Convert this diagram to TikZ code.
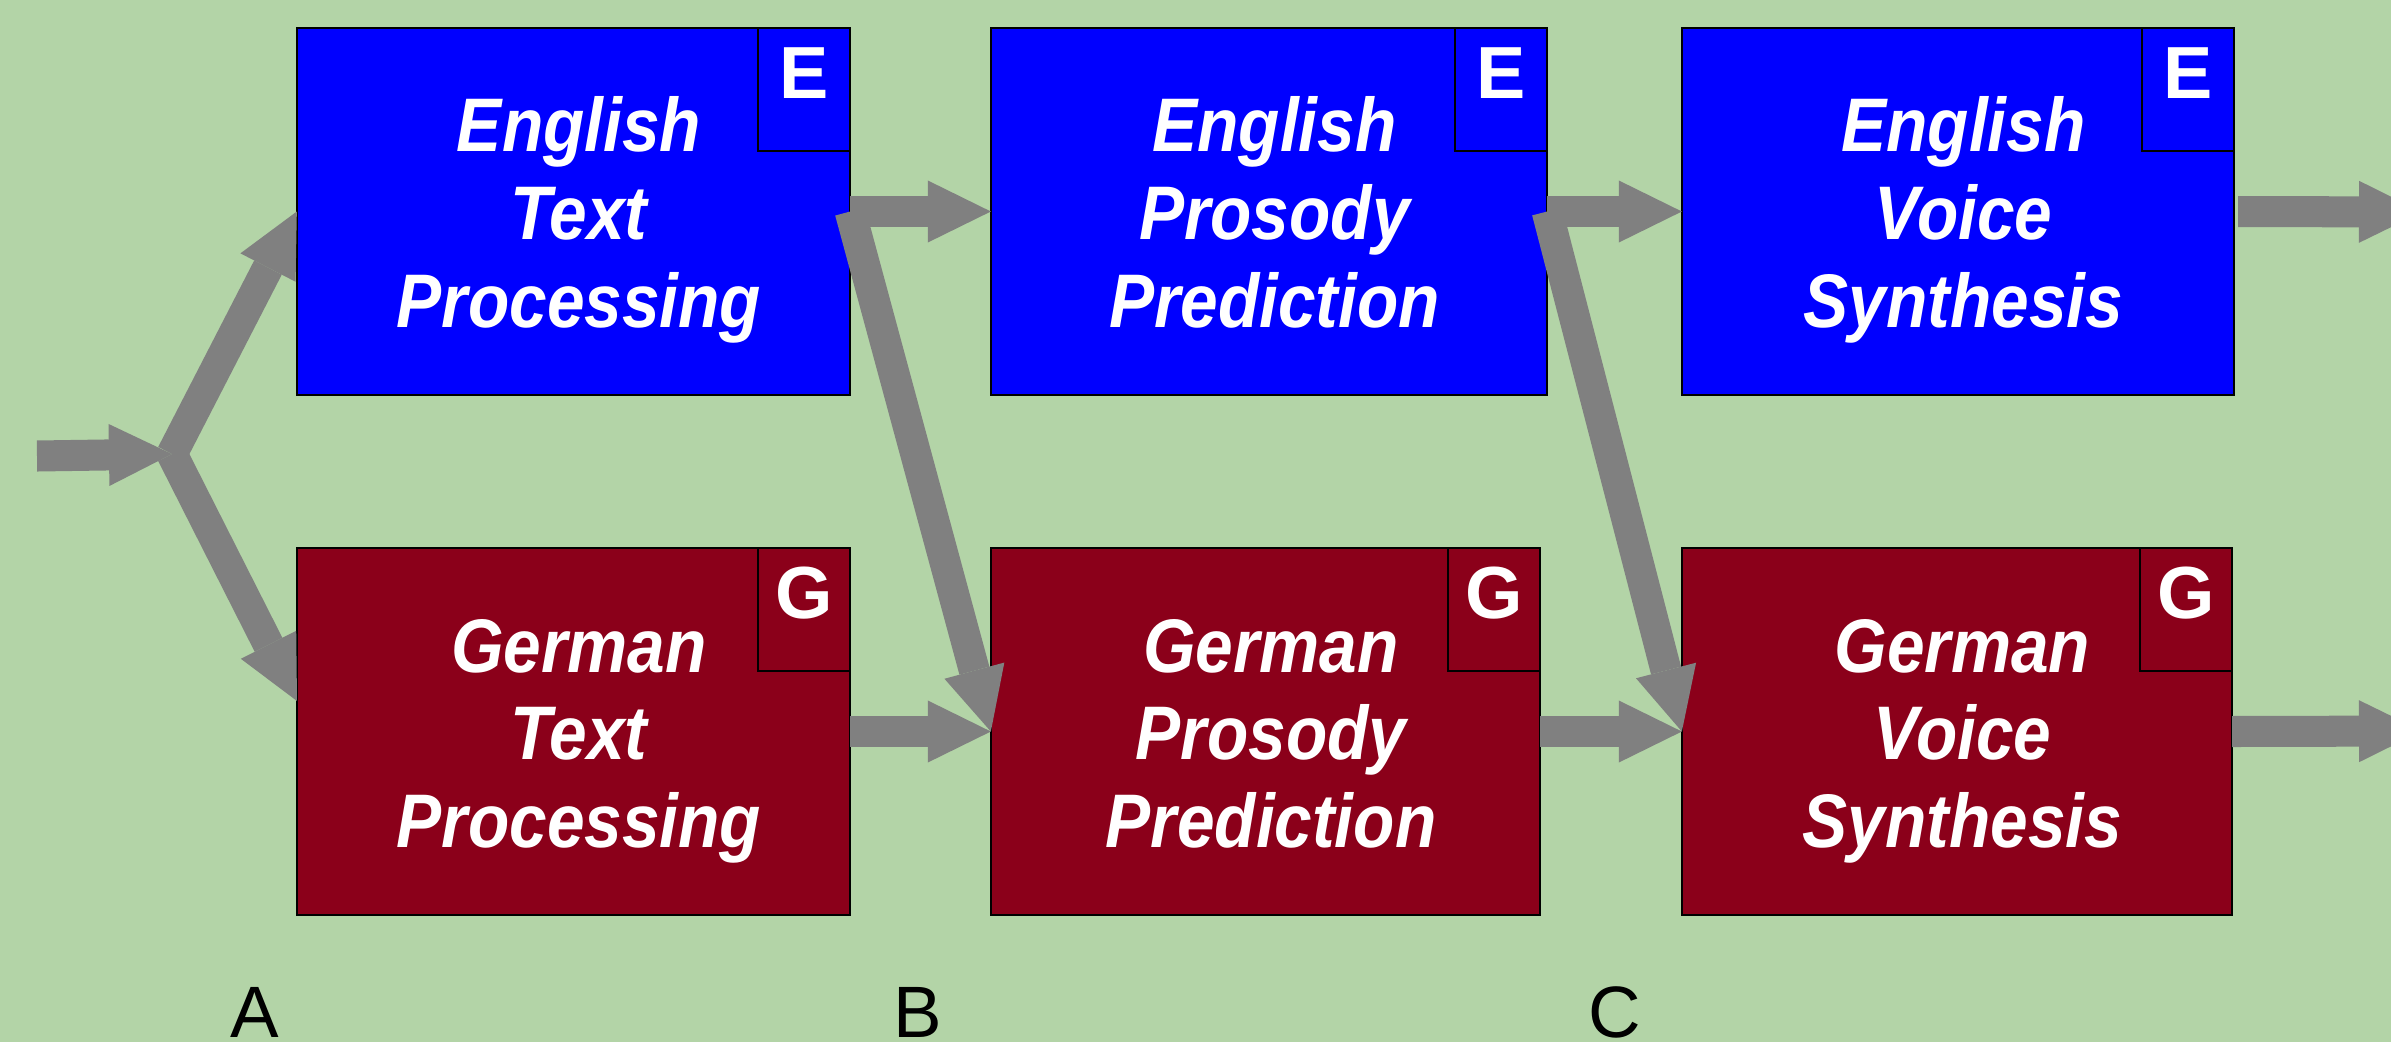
\documentclass[tikz,border=0pt]{standalone}
\usepackage{fontspec}
\setmainfont{Liberation Sans}
\newfontfamily\stagefont{Liberation Sans}[FakeStretch=0.89]
\usetikzlibrary{arrows.meta,calc}

\definecolor{bggreen}{RGB}{179,212,167}
\definecolor{engblue}{RGB}{0,0,255}
\definecolor{gerred}{RGB}{139,0,26}
\definecolor{flowgray}{RGB}{128,128,128}

\tikzset{
  stage/.style={draw=black, line width=0.5pt, minimum height=3.67cm, inner sep=0pt, outer sep=0pt},
  eng/.style={stage, fill=engblue},
  ger/.style={stage, fill=gerred},
  stagetext/.style={text=white, align=center, inner sep=0pt,
    text height=2.305cm, text depth=0.16cm, xshift=0.055cm, yshift=-0.09cm,
    font=\stagefont\bfseries\itshape\fontsize{21.6pt}{25pt}\selectfont},
  tag/.style={draw=black, line width=0.5pt, minimum width=0.92cm, minimum height=1.23cm,
    inner sep=0pt, outer sep=0pt, text height=0.71cm, text depth=0.52cm, text=white,
    font=\bfseries\fontsize{21pt}{25pt}\selectfont},
  flow/.style={draw=flowgray, line width=0.31cm,
    -{Triangle[length=0.63cm, width=0.62cm, line width=0pt]}},
  stagename/.style={font=\fontsize{20.7pt}{25pt}\selectfont, anchor=base,
    inner sep=0pt, text depth=0pt}
}

\begin{document}
\begin{tikzpicture}[x=0.01cm, y=-0.01cm]
\useasboundingbox (0,0) rectangle (2391,1042);
\clip (0,0) rectangle (2391,1042);
\fill[bggreen] (0,0) rectangle (2391,1042);

% English pipeline
\node[eng, minimum width=5.53cm] (ETP) at (573.5,211.5) {};
\node[eng, minimum width=5.56cm] (EPP) at (1269,211.5) {};
\node[eng, minimum width=5.52cm] (EVS) at (1958,211.5) {};
% German pipeline
\node[ger, minimum width=5.53cm] (GTP) at (573.5,731.5) {};
\node[ger, minimum width=5.49cm] (GPP) at (1265.5,731.5) {};
\node[ger, minimum width=5.50cm] (GVS) at (1957,731.5) {};

% language tags
\node[tag, anchor=north east] (ETPtag) at (ETP.north east) {E};
\node[tag, anchor=north east] (EPPtag) at (EPP.north east) {E};
\node[tag, anchor=north east] (EVStag) at (EVS.north east) {E};
\node[tag, anchor=north east] (GTPtag) at (GTP.north east) {G};
\node[tag, anchor=north east] (GPPtag) at (GPP.north east) {G};
\node[tag, anchor=north east] (GVStag) at (GVS.north east) {G};

% stage titles
\node[stagetext] (ETPtext) at (ETP.center) {English\\Text\\Processing};
\node[stagetext] (EPPtext) at (EPP.center) {English\\Prosody\\Prediction};
\node[stagetext] (EVStext) at (EVS.center) {English\\Voice\\Synthesis};
\node[stagetext] (GTPtext) at (GTP.center) {German\\Text\\Processing};
\node[stagetext] (GPPtext) at (GPP.center) {German\\Prosody\\Prediction};
\node[stagetext] (GVStext) at (GVS.center) {German\\Voice\\Synthesis};

% free ends of the flow
\coordinate (src) at (37,456);
\coordinate (fork) at (172,454);
\coordinate (GTPin) at (297,701);
\coordinate (outE) at (2422,212);
\coordinate (outG) at (2422,731);

% flow arrows
\draw[flow] (src) -- (fork);
\draw[flow] (fork) -- (ETP.west);
\draw[flow] (fork) -- (GTPin);
\draw[flow] (ETP.east) -- (EPP.west);
\draw[flow] (ETP.east) -- (GPP.west);
\draw[flow] (GTP.east) -- (GPP.west);
\draw[flow] (EPP.east) -- (EVS.west);
\draw[flow] (EPP.east) -- (GVS.west);
\draw[flow] (GPP.east) -- (GVS.west);
\draw[flow, shorten <=0.04cm] (EVS.east) -- (outE);
\draw[flow] (GVS.east) -- (outG);

% switching points
\node[stagename] (labA) at (255,1037) {A};
\node[stagename] (labB) at (918,1037) {B};
\node[stagename] (labC) at (1615,1037) {C};
\end{tikzpicture}
\end{document}
